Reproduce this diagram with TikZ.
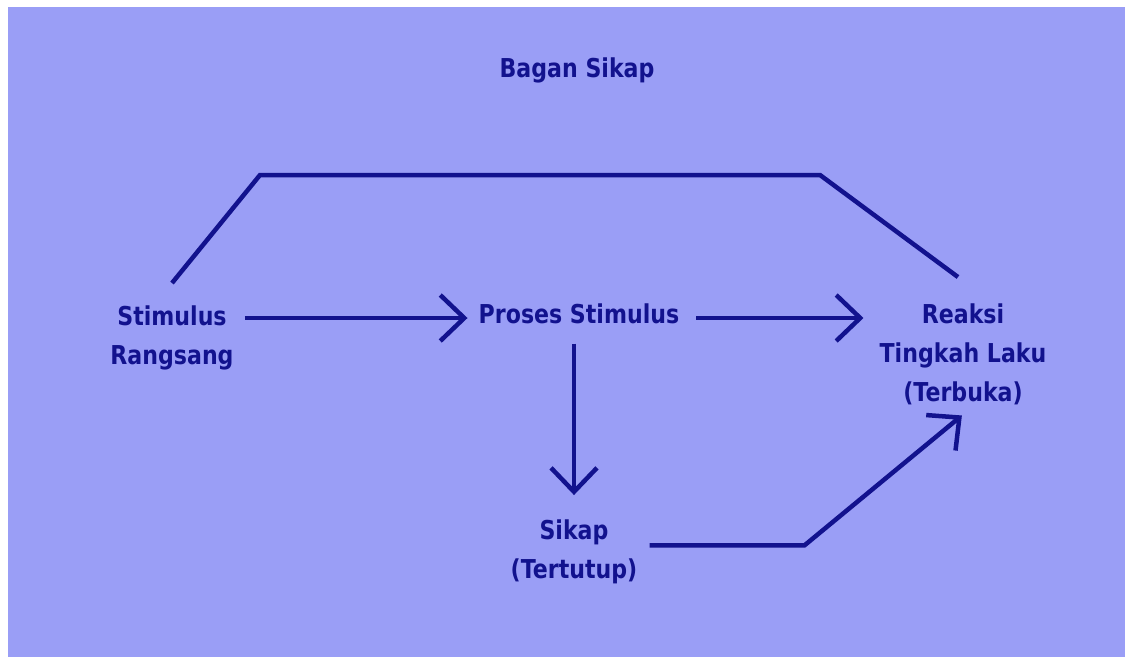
\documentclass[tikz,border=0pt]{standalone}
\usepackage{fontspec}
\usepackage{tikz}
\usetikzlibrary{arrows.meta}
\newfontfamily\diagfont{DejaVu Sans}[FakeStretch=0.85]
\definecolor{bgblue}{HTML}{9A9EF6}
\definecolor{inkblue}{HTML}{12128E}

\begin{document}
\begin{tikzpicture}[x=1pt,y=-1pt,
    lbl/.style={inner sep=0pt, text=inkblue, align=center,
      font=\diagfont\bfseries\fontsize{26}{39}\selectfont},
    con/.style={draw=inkblue, line width=4.5pt, line join=miter},
    arr/.style={con, -{Straight Barb[length=24pt,width=46pt,line width=4.5pt]}}]
          \useasboundingbox (0,0) rectangle (1125,657);
          \fill[bgblue] (8,7) rectangle (1125,657);
          % base = baseline of the last line
          \node[lbl, anchor=base] (title) at (577,77) {Bagan Sikap};
          \node[lbl, anchor=base] (stim) at (172,364) {Stimulus\\Rangsang};
          \node[lbl, anchor=base] (proses) at (579,323) {Proses Stimulus};
          \node[lbl, anchor=base] (reaksi) at (963,401) {Reaksi\\Tingkah Laku\\(Terbuka)};
          \node[lbl, anchor=base] (sikap) at (574,578) {Sikap\\(Tertutup)};
          \coordinate (c1) at (260,175);
          \coordinate (c2) at (820,175);
          \coordinate (p1) at ([yshift=5pt]proses.base west);
          \coordinate (p2) at ([yshift=5pt]proses.base east);
          \draw[con] ([yshift=22pt]stim.north) -- (c1) -- (c2) -- ([xshift=-5pt,yshift=26pt]reaksi.north);
          \draw[arr, shorten <=11pt, shorten >=11pt] (stim.east |- p1) -- (p1);
          \draw[arr, shorten <=17pt, shorten >=16pt] (p2) -- (reaksi.west |- p2);
          \draw[arr, shorten <=20pt, shorten >=24pt] (proses.south -| sikap.north) -- (sikap.north);
          \draw[arr, shorten <=12pt, shorten >=17pt] ([yshift=6pt]sikap.east) -- ++(167,0) -- ([xshift=12pt]reaksi.south);
        \end{tikzpicture}
\end{document}
